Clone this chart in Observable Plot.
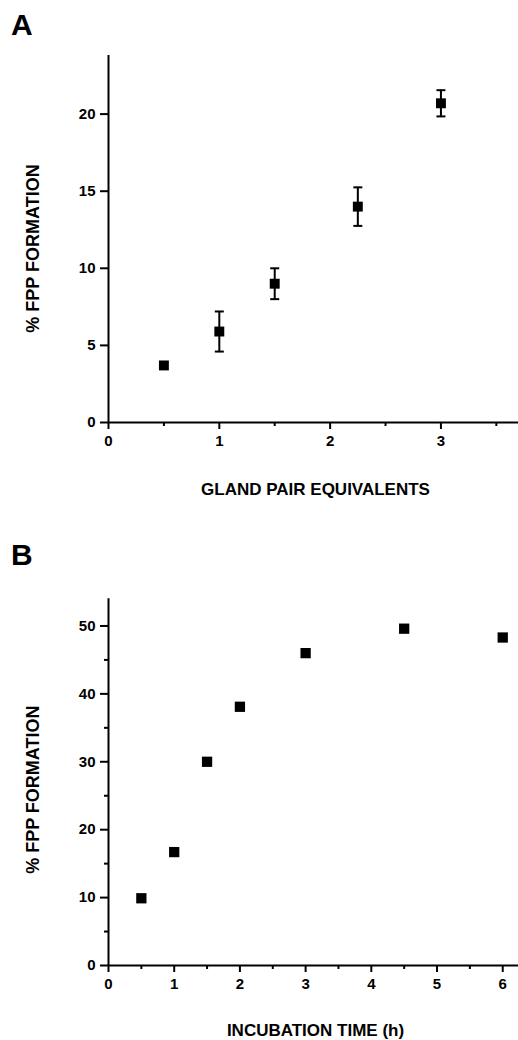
<!DOCTYPE html>
<html>
<head>
<meta charset="utf-8">
<script src="https://cdn.jsdelivr.net/npm/d3@7"></script>
<script src="https://cdn.jsdelivr.net/npm/@observablehq/plot@0.6"></script>
<style>
  html, body { margin: 0; padding: 0; background: #fff; }
  #wrap { position: relative; width: 518px; height: 1040px; font-family: "Liberation Sans", Arial, sans-serif; }
  .letter { position: absolute; z-index: 5; font-weight: bold; font-size: 30px; line-height: 1; color: #000; }
  .panel { position: absolute; left: 0; z-index: 1; }
  .panel svg { display: block; }
  .panel g[aria-label$="tick label"], .panel g[aria-label$="tick label"] text {
    font-size: 15px !important; font-weight: bold !important; font-family: "Liberation Sans", Arial, sans-serif !important;
  }
</style>
</head>
<body>
<div id="wrap">
  <div class="panel" id="pa" style="top:0px;"></div>
  <div class="panel" id="pb" style="top:515px;"></div>
  <div class="letter" style="left:11px; top:10px;">A</div>
  <div class="letter" style="left:11px; top:540px;">B</div>
</div>
<script>
// Panel A data
const glandPairs = [0.5, 1, 1.5, 2.25, 3];
const fppA = [3.7, 5.9, 9.0, 14.0, 20.7];
const errA = [0, 1.3, 1.0, 1.25, 0.85];
const xTicksA = [0, 1, 2, 3];
const xMinorA = [0.5, 1.5, 2.5, 3.5];
const yTicksA = [0, 5, 10, 15, 20];

// Panel B data
const hours = [0.5, 1, 1.5, 2, 3, 4.5, 6];
const fppB = [9.9, 16.7, 30.0, 38.1, 46.0, 49.6, 48.3];
const xTicksB = [0, 1, 2, 3, 4, 5, 6];
const xMinorB = [0.5, 1.5, 2.5, 3.5, 4.5, 5.5];
const yTicksB = [0, 10, 20, 30, 40, 50];
const yMinorB = [5, 15, 25, 35, 45];

const FONT = "'Liberation Sans', Arial, sans-serif";
const capSymbol = { draw(ctx) { ctx.moveTo(-4.5, 0); ctx.lineTo(4.5, 0); } };

const rowsA = glandPairs.map((x, i) => ({x, y: fppA[i], err: errA[i]}));
const rowsB = hours.map((x, i) => ({x, y: fppB[i]}));

function axesMarks(xTicks, xMinor, yTicks, yMinor, xLabel, yLabel, xLabelDy, yLabelDy) {
  const common = {fontSize: 15, fontWeight: "bold", fontFamily: FONT, strokeWidth: 2, label: null, stroke: "black"};
  const marks = [
    Plot.axisX({...common, ticks: xTicks, tickSize: 7, tickPadding: 6, tickFormat: d => String(d)}),
    Plot.axisX({...common, ticks: xMinor, tickSize: 4, tickFormat: () => ""}),
    Plot.axisY({...common, ticks: yTicks, tickSize: 8, tickPadding: 5, tickFormat: d => String(d)}),
    Plot.ruleX([0], {strokeWidth: 2}),
    Plot.ruleY([0], {strokeWidth: 2}),
    Plot.text([xLabel], {text: d => d, frameAnchor: "bottom", dy: xLabelDy, dx: 2, lineAnchor: "middle",
      fontSize: 17, fontWeight: "bold", fontFamily: FONT, fill: "black"}),
    Plot.text([yLabel], {text: d => d, frameAnchor: "left", dx: -75, dy: yLabelDy, rotate: -90,
      textAnchor: "middle", lineAnchor: "middle", fontSize: 18, fontWeight: "bold", fontFamily: FONT, fill: "black"})
  ];
  if (yMinor) marks.push(Plot.axisY({...common, ticks: yMinor, tickSize: 4, tickFormat: () => ""}));
  return marks;
}

const svgStyle = {fontFamily: FONT, fontSize: "15px", fontWeight: "bold", background: "transparent", color: "black"};

const plotA = Plot.plot({
  width: 518, height: 515,
  marginLeft: 108, marginRight: 0, marginTop: 55, marginBottom: 93,
  style: svgStyle,
  x: {domain: [0, 3.7]},
  y: {domain: [0, 23.8]},
  marks: [
    ...axesMarks(xTicksA, xMinorA, yTicksA, null, "GLAND PAIR EQUIVALENTS", "% FPP FORMATION", 67, 9.5),
    Plot.ruleX(rowsA.filter(d => d.err > 0), {x: "x", y1: d => d.y - d.err, y2: d => d.y + d.err, strokeWidth: 2, stroke: "black"}),
    Plot.dot(rowsA.filter(d => d.err > 0), {x: "x", y: d => d.y + d.err, symbol: capSymbol, stroke: "black", fill: "none", strokeWidth: 2}),
    Plot.dot(rowsA.filter(d => d.err > 0), {x: "x", y: d => d.y - d.err, symbol: capSymbol, stroke: "black", fill: "none", strokeWidth: 2}),
    Plot.dot(rowsA, {x: "x", y: "y", symbol: "square", r: 5.6, fill: "black", stroke: "none"})
  ]
});
document.getElementById("pa").appendChild(plotA);

const plotB = Plot.plot({
  width: 518, height: 525,
  marginLeft: 108, marginRight: 0, marginTop: 83.3, marginBottom: 75,
  style: svgStyle,
  x: {domain: [0, 6.24]},
  y: {domain: [0, 54]},
  marks: [
    ...axesMarks(xTicksB, xMinorB, yTicksB, yMinorB, "INCUBATION TIME (h)", "% FPP FORMATION", 65, 7.5),
    Plot.dot(rowsB, {x: "x", y: "y", symbol: "square", r: 5.8, fill: "black", stroke: "none"})
  ]
});
document.getElementById("pb").appendChild(plotB);
</script>
</body>
</html>
